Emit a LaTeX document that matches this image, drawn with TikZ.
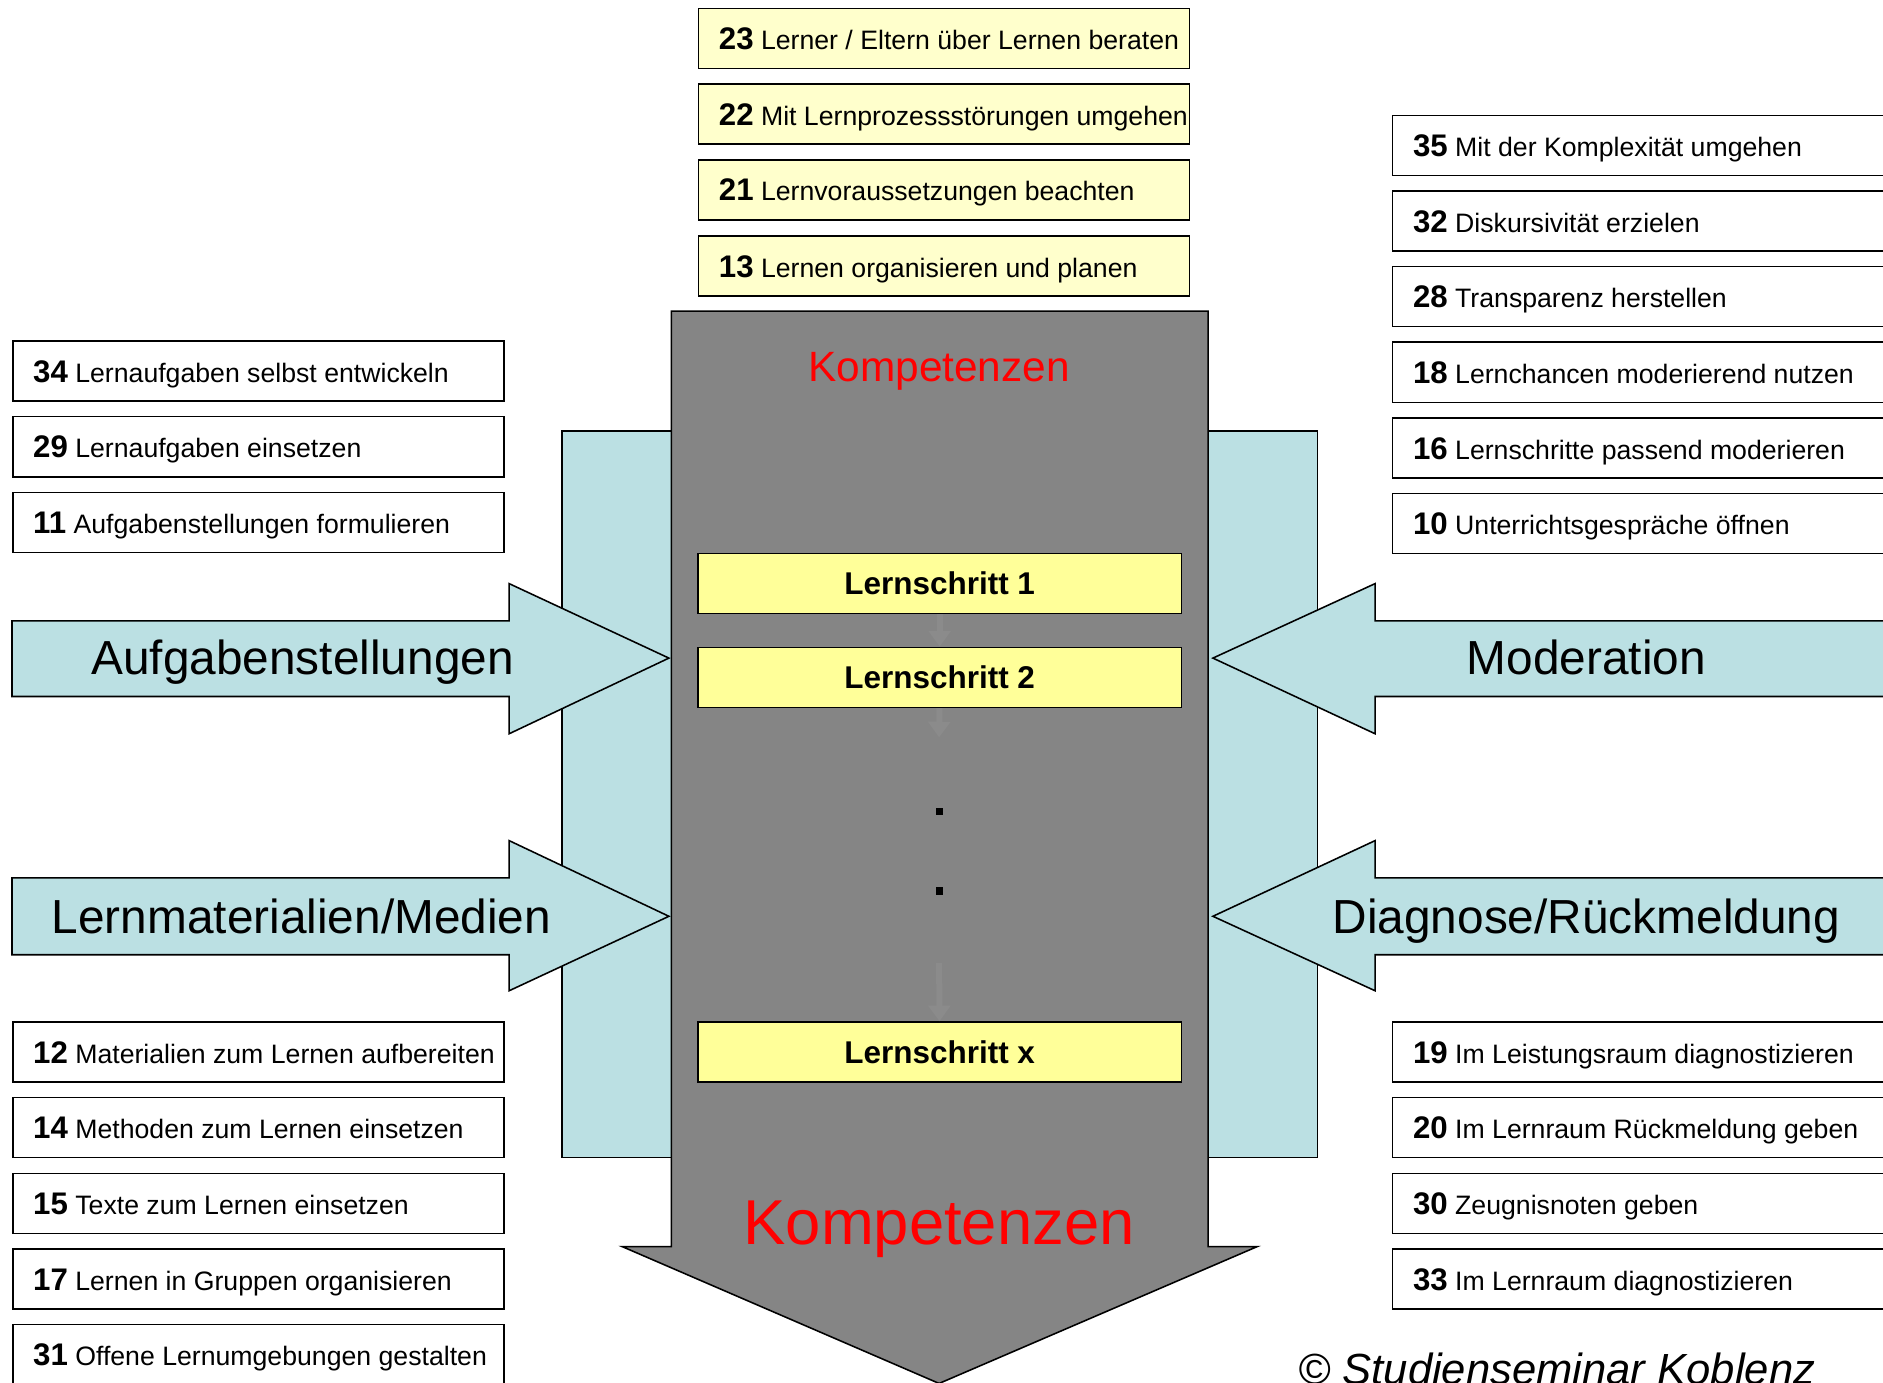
\documentclass[tikz,border=0pt]{standalone}
\usepackage{fontspec}
\setmainfont{Liberation Sans}
\usetikzlibrary{arrows.meta}

\definecolor{hellgelb}{HTML}{FFFFCC}
\definecolor{lsgelb}{HTML}{FFFF99}
\definecolor{hellblau}{HTML}{BBE0E3}
\definecolor{mittelgrau}{HTML}{858585}
\definecolor{leisegrau}{HTML}{8B8B8B}

\newcommand{\kompetenz}[3][375pt]{\hbox to #1{{\fontsize{26}{27}\selectfont\bfseries #2} #3\hss}}

\tikzset{
  kbox/.style={draw=black, line width=1.3pt, fill=white, inner xsep=17pt, inner ysep=0pt,
    minimum height=50pt, text height=18.6pt, text depth=0pt, font=\fontsize{22.2}{27}\selectfont},
  obenbox/.style={kbox, fill=hellgelb},
  lsbox/.style={draw=black, line width=1.3pt, fill=lsgelb, minimum width=403pt, minimum height=50pt,
    inner ysep=0pt, text height=18.8pt, text depth=0pt, font=\fontsize{26.2}{30}\selectfont\bfseries},
  blaupfeil/.style={draw=black, line width=1.3pt, fill=hellblau},
  grosstext/.style={anchor=base, inner sep=0pt, font=\fontsize{39.8}{44}\selectfont},
  rottext/.style={anchor=base, inner sep=0pt, text=red},
  leise/.style={draw=leisegrau, line width=5pt, -{Triangle[width=18pt,length=13pt]}},
  punkt/.style={fill=black, minimum size=6pt, inner sep=0pt}
}

\begin{document}
\begin{tikzpicture}[x=1pt,y=-1pt]
\useasboundingbox (0,0) rectangle (1568,1151);
% Hintergrund
\draw[blaupfeil] (468,359) rectangle (1097,964);
% grosser Pfeil
\draw[draw=black, line width=1.3pt, fill=mittelgrau] (559,259) -- (1006,259) -- (1006,1038) -- (1047,1038)
  -- (782,1152) -- (518,1038) -- (559,1038) -- cycle;
\node[rottext, font=\fontsize{35.3}{40}\selectfont] (komp1) at (782,318) {Kompetenzen};
\node[rottext, font=\fontsize{52.8}{58}\selectfont] (komp2) at (782,1036) {Kompetenzen};
% Pfeile links
\draw[blaupfeil] (10,517) -- (424,517) -- (424,486) -- (557,548) -- (424,611) -- (424,580) -- (10,580) -- cycle;
\draw[blaupfeil] (10,731) -- (424,731) -- (424,700) -- (557,763) -- (424,825) -- (424,795) -- (10,795) -- cycle;
\node[grosstext] (aufg) at (252,562) {Aufgabenstellungen};
\node[grosstext] (medien) at (251,777) {Lernmaterialien/Medien};
% Pfeile rechts
\draw[blaupfeil] (1580,517) -- (1145,517) -- (1145,486) -- (1010,548) -- (1145,611) -- (1145,580) -- (1580,580) -- cycle;
\draw[blaupfeil] (1580,731) -- (1145,731) -- (1145,700) -- (1010,763) -- (1145,825) -- (1145,795) -- (1580,795) -- cycle;
\node[grosstext] (mod) at (1321,562) {Moderation};
\node[grosstext] (diag) at (1321,777) {Diagnose/Rückmeldung};
% Lernschritte
\node[lsbox] (ls1) at (782.5,486) {Lernschritt 1};
\node[lsbox] (ls2) at (782.5,564) {Lernschritt 2};
\node[lsbox] (lsx) at (782.5,876) {Lernschritt x};
\node[punkt] (p1) at (782,676) {};
\node[punkt] (p2) at (782,742) {};
\coordinate (lsende) at (782,614);
\coordinate (lsanfang) at (782,802);
\draw[leise] (ls1) -- (ls2);
\draw[leise] (ls2) -- (lsende);
\draw[leise] (lsanfang) -- (lsx);
% oben
\node[obenbox, anchor=west] (k23) at (581,32) {\kompetenz{23}{Lerner / Eltern über Lernen beraten}};
\node[obenbox, anchor=west] (k22) at (581,95) {\kompetenz{22}{Mit Lernprozessstörungen umgehen}};
\node[obenbox, anchor=west] (k21) at (581,158) {\kompetenz{21}{Lernvoraussetzungen beachten}};
\node[obenbox, anchor=west] (k13) at (581,221.5) {\kompetenz{13}{Lernen organisieren und planen}};
% links
\node[kbox, anchor=west] (k34) at (10,309) {\kompetenz{34}{Lernaufgaben selbst entwickeln}};
\node[kbox, anchor=west] (k29) at (10,372) {\kompetenz{29}{Lernaufgaben einsetzen}};
\node[kbox, anchor=west] (k11) at (10,435) {\kompetenz{11}{Aufgabenstellungen formulieren}};
\node[kbox, anchor=west] (k12) at (10,876) {\kompetenz{12}{Materialien zum Lernen aufbereiten}};
\node[kbox, anchor=west] (k14) at (10,939) {\kompetenz{14}{Methoden zum Lernen einsetzen}};
\node[kbox, anchor=west] (k15) at (10,1002) {\kompetenz{15}{Texte zum Lernen einsetzen}};
\node[kbox, anchor=west] (k17) at (10,1065) {\kompetenz{17}{Lernen in Gruppen organisieren}};
\node[kbox, anchor=west] (k31) at (10,1128) {\kompetenz{31}{Offene Lernumgebungen gestalten}};
% rechts
\node[kbox, anchor=west] (k35) at (1159,121) {\kompetenz[400pt]{35}{Mit der Komplexität umgehen}};
\node[kbox, anchor=west] (k32) at (1159,184) {\kompetenz[400pt]{32}{Diskursivität erzielen}};
\node[kbox, anchor=west] (k28) at (1159,247) {\kompetenz[400pt]{28}{Transparenz herstellen}};
\node[kbox, anchor=west] (k18) at (1159,310) {\kompetenz[400pt]{18}{Lernchancen moderierend nutzen}};
\node[kbox, anchor=west] (k16) at (1159,373) {\kompetenz[400pt]{16}{Lernschritte passend moderieren}};
\node[kbox, anchor=west] (k10) at (1159,436) {\kompetenz[400pt]{10}{Unterrichtsgespräche öffnen}};
\node[kbox, anchor=west] (k19) at (1159,876) {\kompetenz[400pt]{19}{Im Leistungsraum diagnostizieren}};
\node[kbox, anchor=west] (k20) at (1159,939) {\kompetenz[400pt]{20}{Im Lernraum Rückmeldung geben}};
\node[kbox, anchor=west] (k30) at (1159,1002) {\kompetenz[400pt]{30}{Zeugnisnoten geben}};
\node[kbox, anchor=west] (k33) at (1159,1065) {\kompetenz[400pt]{33}{Im Lernraum diagnostizieren}};
% Copyright
\node[anchor=base west, inner sep=0pt, font=\fontsize{36.3}{40}\selectfont\itshape] (copy) at (1081,1153) {© Studienseminar Koblenz};
\end{tikzpicture}
\end{document}
